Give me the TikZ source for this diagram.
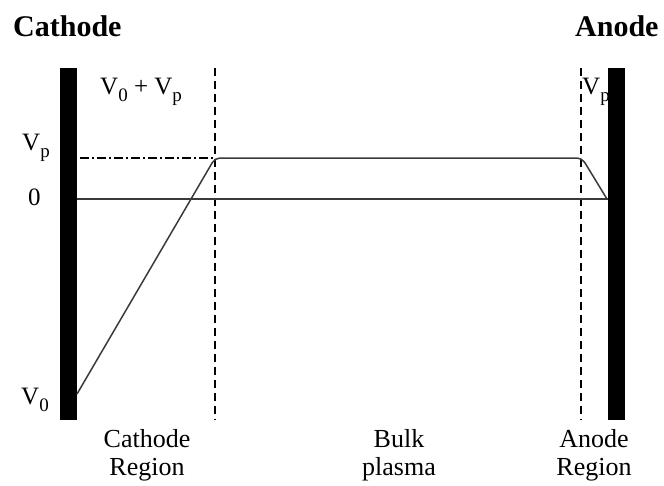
\documentclass[tikz,border=0pt]{standalone}
\usepackage{fontspec}
\setmainfont{Liberation Serif}
\usetikzlibrary{positioning, calc}
\definecolor{traceGray}{HTML}{3A3A3A}
\newcommand{\lowidx}[1]{\raisebox{-0.3em}{\fontsize{19}{19}\selectfont #1}}

\begin{document}
\begin{tikzpicture}[x=1pt, y=-1pt,
    electrode/.style={fill=black},
    regionLine/.style={draw=black, line width=1.4pt, dash pattern=on 8pt off 5pt},
    levelLine/.style={draw=black, line width=1.3pt, dash pattern=on 9pt off 3pt on 2pt off 3pt},
    trace/.style={draw=traceGray, line width=1.5pt},
    title/.style={font=\fontsize{30}{32}\selectfont\bfseries, anchor=base west, inner sep=0pt},
    volt/.style={font=\fontsize{25}{28}\selectfont, anchor=base west, inner sep=0pt},
    region/.style={font=\fontsize{26}{28}\selectfont, align=center, anchor=base, inner sep=0pt},
]
\useasboundingbox (0,0) rectangle (664,485);
% electrodes
\fill[electrode] (60,68) rectangle (77,420);
\fill[electrode] (608,68) rectangle (625,420);
\node[title] (cathode) at (13,36) {Cathode};
\node[title] (anode) at (575,36) {Anode};
% region boundaries
\coordinate (cTop) at (215,68);
\coordinate (cBot) at (215,420);
\coordinate (aTop) at (581,68);
\coordinate (aBot) at (581,420);
\draw[regionLine] (cTop) -- (cBot);
\draw[regionLine] (aTop) -- (aBot);
% potential levels
\coordinate (zeroL) at (77,199);
\coordinate (zeroR) at (608,199);
\coordinate (vpL) at (80,158);
\coordinate (vpR) at (215,158);
\draw[trace] (zeroL) -- (zeroR);
\draw[levelLine] (vpL) -- (vpR);
% potential profile
\coordinate (start) at (77,394);
\coordinate (kneeL) at (215,158);
\coordinate (kneeR) at (582,158);
\coordinate (finish) at (607,199);
\draw[trace, rounded corners=5pt] (start) -- (kneeL) -- (kneeR) -- (finish);
% labels
\node[volt] (vsum) at (100,94) {V\lowidx{0} + V\lowidx{p}};
\node[volt] (vpLeft) at (22,150) {V\lowidx{p}};
\node[volt] (zero) at (28,205) {0};
\node[volt] (vzero) at (21,404) {V\lowidx{0}};
\node[volt] (vpRight) at (582,94) {V\lowidx{p}};
\node[region] (cReg) at (147,475) {Cathode\\Region};
\node[region] (bulk) at (399,475) {Bulk\\plasma};
\node[region] (aReg) at (594,475) {Anode\\Region};
\end{tikzpicture}
\end{document}
